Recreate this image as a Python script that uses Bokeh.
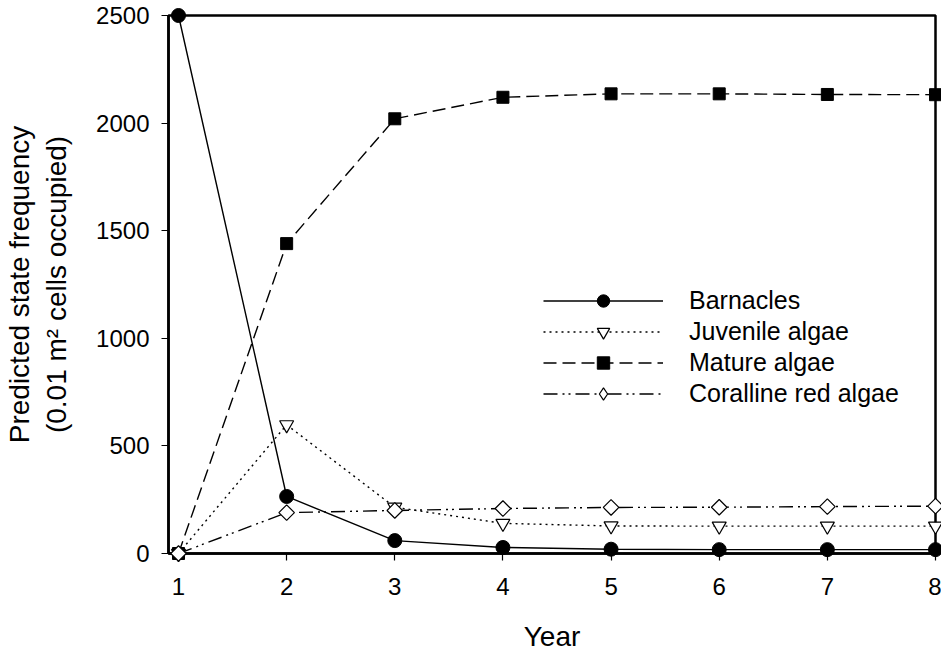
import numpy as np
from bokeh.plotting import figure
from bokeh.models import Range1d, FixedTicker, Legend, LegendItem
from bokeh.embed import file_html
from bokeh.resources import INLINE

years = [1, 2, 3, 4, 5, 6, 7, 8]
barnacles = [2500, 265, 60, 28, 20, 18, 18, 18]
juvenile = [0, 598, 215, 140, 128, 127, 127, 127]
mature = [0, 1440, 2020, 2120, 2136, 2136, 2133, 2132]
coralline = [0, 190, 200, 209, 214, 215, 218, 220]
y_ticks = [0, 500, 1000, 1500, 2000, 2500]

FONT = "Liberation Sans"

p = figure(width=941, height=654, output_backend="svg", toolbar_location=None,
           x_range=Range1d(0.9075, 8), y_range=Range1d(0, 2500),
           min_border_left=168, min_border_top=15, min_border_right=6, min_border_bottom=101)

p.xgrid.visible = False
p.ygrid.visible = False
p.outline_line_color = "black"
p.outline_line_width = 2.5
p.background_fill_color = "white"
p.border_fill_color = "white"

for ax in (p.xaxis[0], p.yaxis[0]):
    ax.axis_line_width = 2.5
    ax.axis_line_color = "black"
    ax.major_tick_line_color = "black"
    ax.major_tick_line_width = 1.2
    ax.major_tick_out = 7
    ax.major_tick_in = 0
    ax.minor_tick_line_color = None
    ax.major_label_text_font = FONT
    ax.major_label_text_font_size = "24px"
    ax.major_label_text_color = "black"
    ax.axis_label_text_font = FONT
    ax.axis_label_text_font_size = "28px"
    ax.axis_label_text_font_style = "normal"
    ax.axis_label_text_color = "black"

p.xaxis.ticker = FixedTicker(ticks=years)
p.yaxis.ticker = FixedTicker(ticks=y_ticks)
p.xaxis.axis_label = "Year"
p.yaxis.axis_label = "Predicted state frequency\n(0.01 m\u00b2 cells occupied)"
p.xaxis.major_label_standoff = 17
p.yaxis.major_label_standoff = 12
p.xaxis.axis_label_standoff = 23
p.yaxis.axis_label_standoff = 21

lw = 1.4
l1 = p.line(years, barnacles, line_color="black", line_width=lw, level="overlay")
m1 = p.scatter(years, barnacles, marker="circle", size=14, fill_color="black",
               line_color="black", level="overlay")
l2 = p.line(years, juvenile, line_color="black", line_width=lw, line_dash="2 4", level="overlay")
m2 = p.scatter(years, juvenile, marker="inverted_triangle", size=14, fill_color="white",
               line_color="black", line_width=1.2, level="overlay")
l3 = p.line(years, mature, line_color="black", line_width=lw, line_dash="13 6", level="overlay")
m3 = p.scatter(years, mature, marker="square", size=12, fill_color="black",
               line_color="black", level="overlay")
l4 = p.line(years, coralline, line_color="black", line_width=lw, line_dash="14 5 2 4 2 5", level="overlay")
# legend proxy (diamond shape), hidden beneath the rotated-square markers
m4_leg = p.scatter(years, coralline, marker="diamond", size=9, fill_color="white",
                   line_color="black", line_width=1.2)
m4 = p.scatter(years, coralline, marker="square", angle=np.pi / 4, size=11, fill_color="white",
               line_color="black", line_width=1.2, level="overlay")

legend = Legend(items=[
    LegendItem(label="Barnacles", renderers=[l1, m1]),
    LegendItem(label="Juvenile algae", renderers=[l2, m2]),
    LegendItem(label="Mature algae", renderers=[l3, m3]),
    LegendItem(label="Coralline red algae", renderers=[l4, m4_leg]),
], location=(375, 144))
legend.border_line_alpha = 0
legend.background_fill_alpha = 0
legend.padding = 0
legend.margin = 0
legend.spacing = 0
legend.glyph_width = 120
legend.glyph_height = 31
legend.label_height = 31
legend.label_standoff = 26
legend.label_text_font = FONT
legend.label_text_font_size = "25px"
legend.label_text_color = "black"
p.add_layout(legend)

open("out.html", "w").write(file_html(p, INLINE))
